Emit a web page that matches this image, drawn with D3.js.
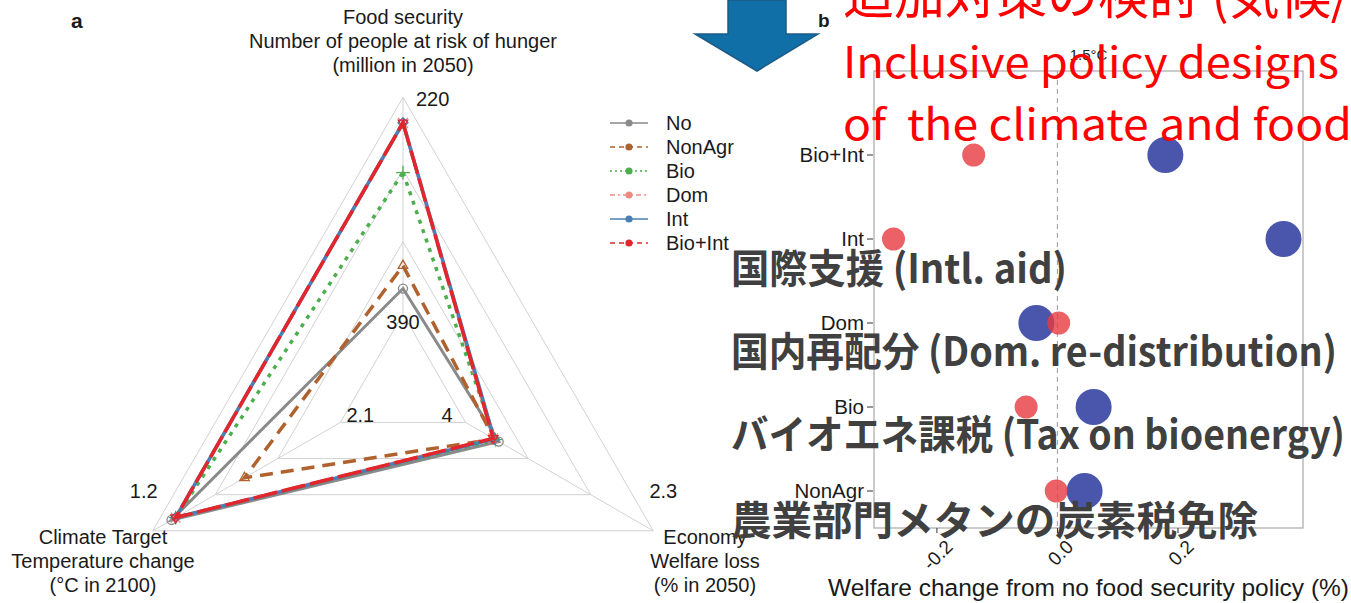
<!DOCTYPE html>
<html>
<head>
<meta charset="utf-8">
<script src="https://cdn.jsdelivr.net/npm/d3@7"></script>
<style>
  html, body { margin: 0; padding: 0; background: #fff; }
  svg { display: block; }
</style>
</head>
<body>
<svg id="fig" width="1351" height="603"></svg>
<script>
// ---------- Panel a: radar of three outcomes per scenario ----------
const scenarios   = ["No", "NonAgr", "Bio", "Dom", "Int", "Bio+Int"];
const foodRisk    = [370, 352, 279, 240, 240, 240];        // million people at risk of hunger, 2050
const welfareLoss = [3.70, 3.74, 3.73, 3.75, 3.74, 3.75];  // % welfare loss, 2050
const tempChange  = [1.29, 1.64, 1.31, 1.31, 1.31, 1.31];  // °C in 2100

// axis order: food (top), economy (lower right), climate (lower left)
const axisInner = [390, 4, 2.1];   // value drawn on the innermost ring
const axisOuter = [220, 2.3, 1.2]; // value drawn on the outer ring
const axisInnerLabels = ["390", "4", "2.1"];
const axisOuterLabels = ["220", "2.3", "1.2"];

// ---------- Panel b: welfare change by policy ----------
const policies       = ["NonAgr", "Bio", "Dom", "Int", "Bio+Int"];
const welfareChangeA = [-0.002, -0.052, 0.002, -0.272, -0.139];
const welfareChangeB = [0.045, 0.060, -0.035, 0.375, 0.179];
const xTickValues    = [-0.2, 0.0, 0.2];

const LATIN = "'Liberation Sans', Arial, Helvetica, sans-serif";
const JP = "'Noto Sans CJK JP', 'Noto Sans', sans-serif";

const svg = d3.select("#fig");

// ================= Panel a =================
const cx = 403, cy = 386.3, R = 289;
const angles = [-90, 30, 150].map(d => d * Math.PI / 180);
const rScales = axisInner.map((v, i) =>
  d3.scaleLinear().domain([v, axisOuter[i]]).range([R / 4, R]));
const polar = (i, r) => [cx + r * Math.cos(angles[i]), cy + r * Math.sin(angles[i])];

const ga = svg.append("g");

// rings
d3.range(1, 5).forEach(k => {
  const r = R * k / 4;
  ga.append("path")
    .attr("d", d3.line()(angles.map((a, i) => polar(i, r))) + "Z")
    .attr("fill", "none").attr("stroke", "#d2d2d2").attr("stroke-width", 1);
});
// spokes (inner ring to outer ring)
angles.forEach((a, i) => {
  const p0 = polar(i, R / 4), p1 = polar(i, R);
  ga.append("line").attr("x1", p0[0]).attr("y1", p0[1]).attr("x2", p1[0]).attr("y2", p1[1])
    .attr("stroke", "#d2d2d2").attr("stroke-width", 1);
});

const seriesStyle = [
  { color: "#8a8a8a", width: 3,   dash: null,        legDash: null,      sym: d3.symbolCircle,   rot: 0 },
  { color: "#b0622e", width: 3.5, dash: "13,8",      legDash: "5,4",     sym: d3.symbolTriangle2, rot: 0 },
  { color: "#4cae4c", width: 3.5, dash: "4,6",       legDash: "2,3",     sym: d3.symbolPlus,     rot: 0 },
  { color: "#f08a80", width: 3.5, dash: "14,4,3,4",  legDash: "5,3,2,3", sym: d3.symbolTimes,    rot: 0 },
  { color: "#4a7fb5", width: 3.5, dash: null,        legDash: null,      sym: d3.symbolDiamond2, rot: 0 },
  { color: "#e3262b", width: 3.5, dash: "24,5",      legDash: "5,4",     sym: d3.symbolTriangle2, rot: 180 }
];

scenarios.forEach((name, s) => {
  const vals = [foodRisk[s], welfareLoss[s], tempChange[s]];
  const pts = vals.map((v, i) => polar(i, rScales[i](v)));
  const st = seriesStyle[s];
  ga.append("path")
    .attr("d", d3.line()(pts) + "Z")
    .attr("fill", "none")
    .attr("stroke", st.color)
    .attr("stroke-width", st.width)
    .attr("stroke-dasharray", st.dash)
    .attr("stroke-linejoin", "miter");
  pts.forEach(p => {
    ga.append("path")
      .attr("d", d3.symbol().type(st.sym).size(64)())
      .attr("transform", `translate(${p[0]},${p[1]}) rotate(${st.rot})`)
      .attr("fill", "none").attr("stroke", st.color).attr("stroke-width", 1.3);
  });
});

// text helper
const txt = (g, x, y, s, opts = {}) => g.append("text")
  .attr("x", x).attr("y", y).text(s)
  .attr("font-family", opts.family || LATIN)
  .attr("font-size", opts.size || 20)
  .attr("font-weight", opts.weight || "normal")
  .attr("text-anchor", opts.anchor || "start")
  .attr("fill", opts.fill || "#1a1a1a");

// axis value labels
{
  const o0 = polar(0, R), o1 = polar(1, R), o2 = polar(2, R);
  const i0 = polar(0, R / 4), i1 = polar(1, R / 4), i2 = polar(2, R / 4);
  txt(ga, o0[0] + 13, o0[1] + 9, axisOuterLabels[0]);
  txt(ga, o1[0] + 10, o1[1] - 33, axisOuterLabels[1], { anchor: "middle" });
  txt(ga, o2[0] - 9, o2[1] - 33, axisOuterLabels[2], { anchor: "middle" });
  txt(ga, i0[0], i0[1] + 15, axisInnerLabels[0], { anchor: "middle" });
  txt(ga, i1[0] - 13, i1[1], axisInnerLabels[1], { anchor: "end" });
  txt(ga, i2[0] + 6, i2[1], axisInnerLabels[2]);
}

// axis titles
["Food security", "Number of people at risk of hunger", "(million in 2050)"]
  .forEach((s, k) => txt(ga, cx, 24 + 24 * k, s, { anchor: "middle" }));
["Climate Target", "Temperature change", "(°C in 2100)"]
  .forEach((s, k) => txt(ga, 103, 544 + 24 * k, s, { anchor: "middle" }));
["Economy", "Welfare loss", "(% in 2050)"]
  .forEach((s, k) => txt(ga, 705, 544 + 24 * k, s, { anchor: "middle" }));

txt(ga, 71, 28, "a", { weight: "bold", size: 21 });

// legend
scenarios.forEach((name, s) => {
  const st = seriesStyle[s];
  const y = 123 + 24 * s;
  ga.append("line").attr("x1", 610).attr("x2", 648).attr("y1", y).attr("y2", y)
    .attr("stroke", st.color).attr("stroke-width", 1.4).attr("stroke-dasharray", st.legDash);
  ga.append("circle").attr("cx", 629).attr("cy", y).attr("r", 3.6).attr("fill", st.color);
  txt(ga, 666, y + 7, name);
});

// ================= Panel b =================
const gb = svg.append("g");
const px0 = 874, px1 = 1303, py0 = 71, py1 = 528;
const allVals = welfareChangeA.concat(welfareChangeB);
const ext = d3.extent(allVals);
const pad = (ext[1] - ext[0]) * 0.05;
const xb = d3.scaleLinear().domain([ext[0] - pad, ext[1] + pad]).range([px0, px1]);
const yb = d3.scalePoint().domain(policies).range([491, 155]);

gb.append("rect").attr("x", px0).attr("y", py0).attr("width", px1 - px0).attr("height", py1 - py0)
  .attr("fill", "#fff").attr("stroke", "#b0b0b0").attr("stroke-width", 1.3);

gb.append("line").attr("x1", xb(0)).attr("x2", xb(0)).attr("y1", py0).attr("y2", py1)
  .attr("stroke", "#a8a8a8").attr("stroke-width", 1.2).attr("stroke-dasharray", "5,4");

// points: series B (blue) beneath series A (red)
gb.selectAll("circle.b").data(policies).join("circle")
  .attr("cx", (d, i) => xb(welfareChangeB[i])).attr("cy", d => yb(d))
  .attr("r", 18).attr("fill", "#3a48a4").attr("fill-opacity", 0.92);
gb.selectAll("circle.a").data(policies).join("circle")
  .attr("cx", (d, i) => xb(welfareChangeA[i])).attr("cy", d => yb(d))
  .attr("r", 11.5).attr("fill", "#e63a40").attr("fill-opacity", 0.8);

// y axis ticks and labels
policies.forEach(p => {
  gb.append("line").attr("x1", 867).attr("x2", 873).attr("y1", yb(p)).attr("y2", yb(p))
    .attr("stroke", "#333").attr("stroke-width", 1);
  txt(gb, 864, yb(p) + 7, p, { anchor: "end", size: 20.5 });
});

// x axis ticks and rotated labels
xTickValues.forEach(v => {
  const x = xb(v);
  gb.append("line").attr("x1", x).attr("x2", x).attr("y1", py1).attr("y2", py1 + 5)
    .attr("stroke", "#333").attr("stroke-width", 1);
  gb.append("text").text(d3.format(".1f")(v).replace("−", "-"))
    .attr("transform", `translate(${x + 17},${548}) rotate(-45)`)
    .attr("text-anchor", "end").attr("font-family", LATIN).attr("font-size", 19).attr("fill", "#1a1a1a");
});

txt(gb, (px0 + px1) / 2, 596, "Welfare change from no food security policy (%)", { anchor: "middle", size: 24.5 });
txt(gb, (px0 + px1) / 2, 60, "1.5°C", { anchor: "middle", size: 15 });
txt(gb, 818, 27, "b", { weight: "bold", size: 19 });

// ================= Slide overlays =================
const go = svg.append("g");
const arrowShape = [[728, 0], [786, 0], [786, 34], [818, 34], [757, 71], [695, 34], [728, 34]];
go.append("path").attr("d", d3.line()(arrowShape) + "Z")
  .attr("fill", "#0f6fa6").attr("stroke", "#1d5b87").attr("stroke-width", 1.5);

// red heading lines: [text, baseline, font size, width]
[["追加対策の検討 (気候/", 14, 51, null],
 ["Inclusive policy designs", 78, 43, 496],
 ["of  the climate and food", 140, 43, 509]]
  .forEach(([s, y, fs, w]) => {
    const t = go.append("text").attr("x", 843).attr("y", y).text(s)
      .attr("font-family", JP).attr("font-size", fs).attr("fill", "#ff0000")
      .attr("xml:space", "preserve").style("white-space", "pre");
    if (w) t.attr("textLength", w).attr("lengthAdjust", "spacingAndGlyphs");
  });

// grey policy captions: [text, baseline, width]
[["国際支援 (Intl. aid)", 283, 336],
 ["国内再配分 (Dom. re-distribution)", 366, 606],
 ["バイオエネ課税 (Tax on bioenergy)", 449, 614],
 ["農業部門メタンの炭素税免除", 535, 527]]
  .forEach(([s, y, w]) => {
    go.append("text").attr("x", 731).attr("y", y).text(s)
      .attr("font-family", JP).attr("font-size", 40).attr("font-weight", "bold")
      .attr("fill", "#404040")
      .attr("textLength", w).attr("lengthAdjust", "spacingAndGlyphs");
  });
</script>
</body>
</html>
